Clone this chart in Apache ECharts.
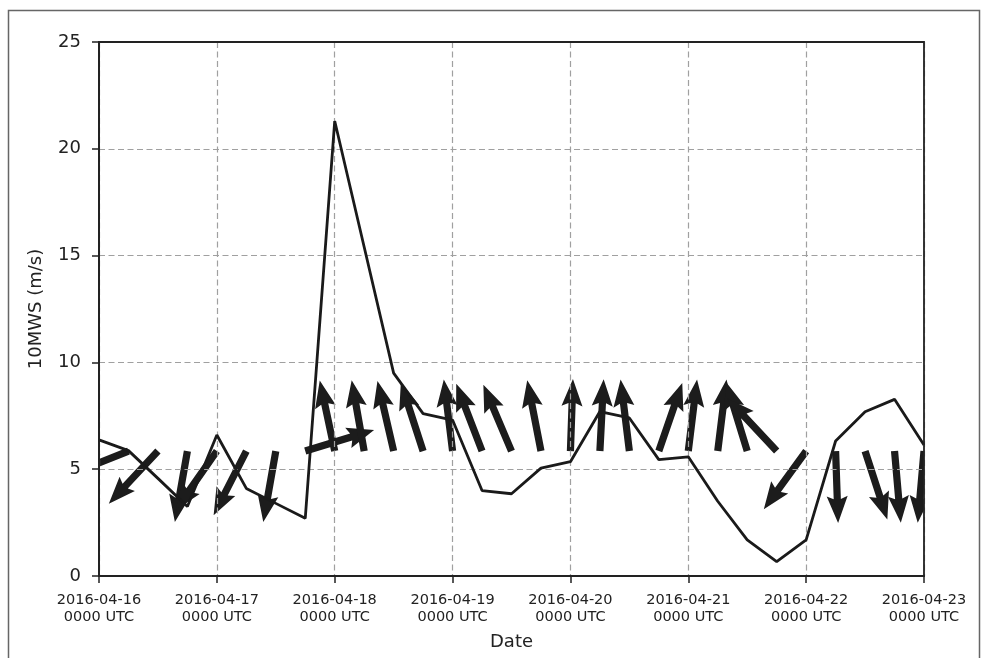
<!DOCTYPE html>
<html><head><meta charset="utf-8">
<script src="https://cdn.jsdelivr.net/npm/echarts@6/dist/echarts.min.js"></script>
<style>html,body{margin:0;padding:0;background:#fff}#c{width:983px;height:658px}</style>
</head><body><div id="c"></div>
<script>
// hours since 2016-04-16 00 UTC
const hours = [0,6,12,18,24,30,36,42,48,54,60,66,72,78,84,90,96,102,108,114,120,126,132,138,144,150,156,162,168];
// 10 m wind speed (m/s)
const windSpeed = [6.37,5.87,4.57,3.25,6.6,4.1,3.4,2.7,21.3,15.4,9.5,7.6,7.3,4.0,3.85,5.05,5.35,7.7,7.4,5.45,5.58,3.5,1.69,0.67,1.69,6.32,7.69,8.27,6.13];
// direction the arrow points (degrees clockwise from up)
const windDir = [250,248,223,190,215,207,190,73,348,350,347,342,353,339,337,349,2,3,353,19,7,7,343,317,216,178,162,175,185];
// x tick labels (one per day)
const tickLabels = ['2016-04-16\n0000 UTC','2016-04-17\n0000 UTC','2016-04-18\n0000 UTC','2016-04-19\n0000 UTC','2016-04-20\n0000 UTC','2016-04-21\n0000 UTC','2016-04-22\n0000 UTC','2016-04-23\n0000 UTC'];

const ARROW_BASE = 5.85;
const FONT = 'DejaVu Sans';
const chart = echarts.init(document.getElementById('c'), null, {renderer:'canvas'});
const lineData = hours.map((h,i)=>[h, windSpeed[i]]);
const arrowData = hours.map((h,i)=>[h, windDir[i]]);

chart.setOption({
  animation:false,
  backgroundColor:'#fff',
  graphic:[{type:'rect', shape:{x:8.5,y:10.5,width:971,height:700}, style:{fill:'none', stroke:'#666', lineWidth:1.5}, z:-10}],
  grid:{left:99, right:59, top:42, bottom:82, show:true, borderColor:'#222', borderWidth:1.8, backgroundColor:'transparent', z:5},
  xAxis:{type:'value', min:0, max:168, interval:24, z:2,
    name:'Date', nameLocation:'middle', nameGap:57,
    nameTextStyle:{fontFamily:FONT, fontSize:18, color:'#222'},
    axisLine:{show:true, lineStyle:{color:'#222', width:1.8}},
    axisTick:{show:true, length:7, lineStyle:{color:'#222', width:1.5}},
    axisLabel:{margin:16, fontFamily:FONT, fontSize:14.5, lineHeight:17, color:'#222',
      formatter:v=>tickLabels[Math.round(v/24)]},
    splitLine:{show:true, lineStyle:{color:'#a0a0a0', type:[6,3.5], width:1.2}}},
  yAxis:{type:'value', min:0, max:25, interval:5, z:2,
    name:'10MWS (m/s)', nameLocation:'middle', nameGap:54,
    nameTextStyle:{fontFamily:FONT, fontSize:18, color:'#222'},
    axisLine:{show:true, lineStyle:{color:'#222', width:1.8}},
    axisTick:{show:true, length:7, lineStyle:{color:'#222', width:1.5}},
    axisLabel:{margin:18, fontFamily:FONT, fontSize:18, color:'#222'},
    splitLine:{show:true, lineStyle:{color:'#a0a0a0', type:[6,3.5], width:1.2}}},
  series:[
    {type:'custom', z:1, clip:true, data:arrowData,
      renderItem:(params, api)=>{
        const x = api.value(0), dir = api.value(1);
        const p = api.coord([x, ARROW_BASE]);
        const th = dir*Math.PI/180;
        const dx = Math.sin(th), dy = -Math.cos(th);
        const nx = -dy, ny = dx;
        const L=72, w=3.6, hw=10.5, hl=27, hal=24;
        const pt=(a,b)=>[p[0]+dx*a+nx*b, p[1]+dy*a+ny*b];
        return {type:'polygon', shape:{points:[pt(0,w),pt(L-hal,w),pt(L-hl,hw),pt(L,0),pt(L-hl,-hw),pt(L-hal,-w),pt(0,-w)]},
          style:{fill:'#1c1c1c'}};
      }},
    {type:'line', z:3, data:lineData, showSymbol:false, symbol:'none',
      lineStyle:{color:'#1a1a1a', width:2.8}}
  ]
});
</script></body></html>
